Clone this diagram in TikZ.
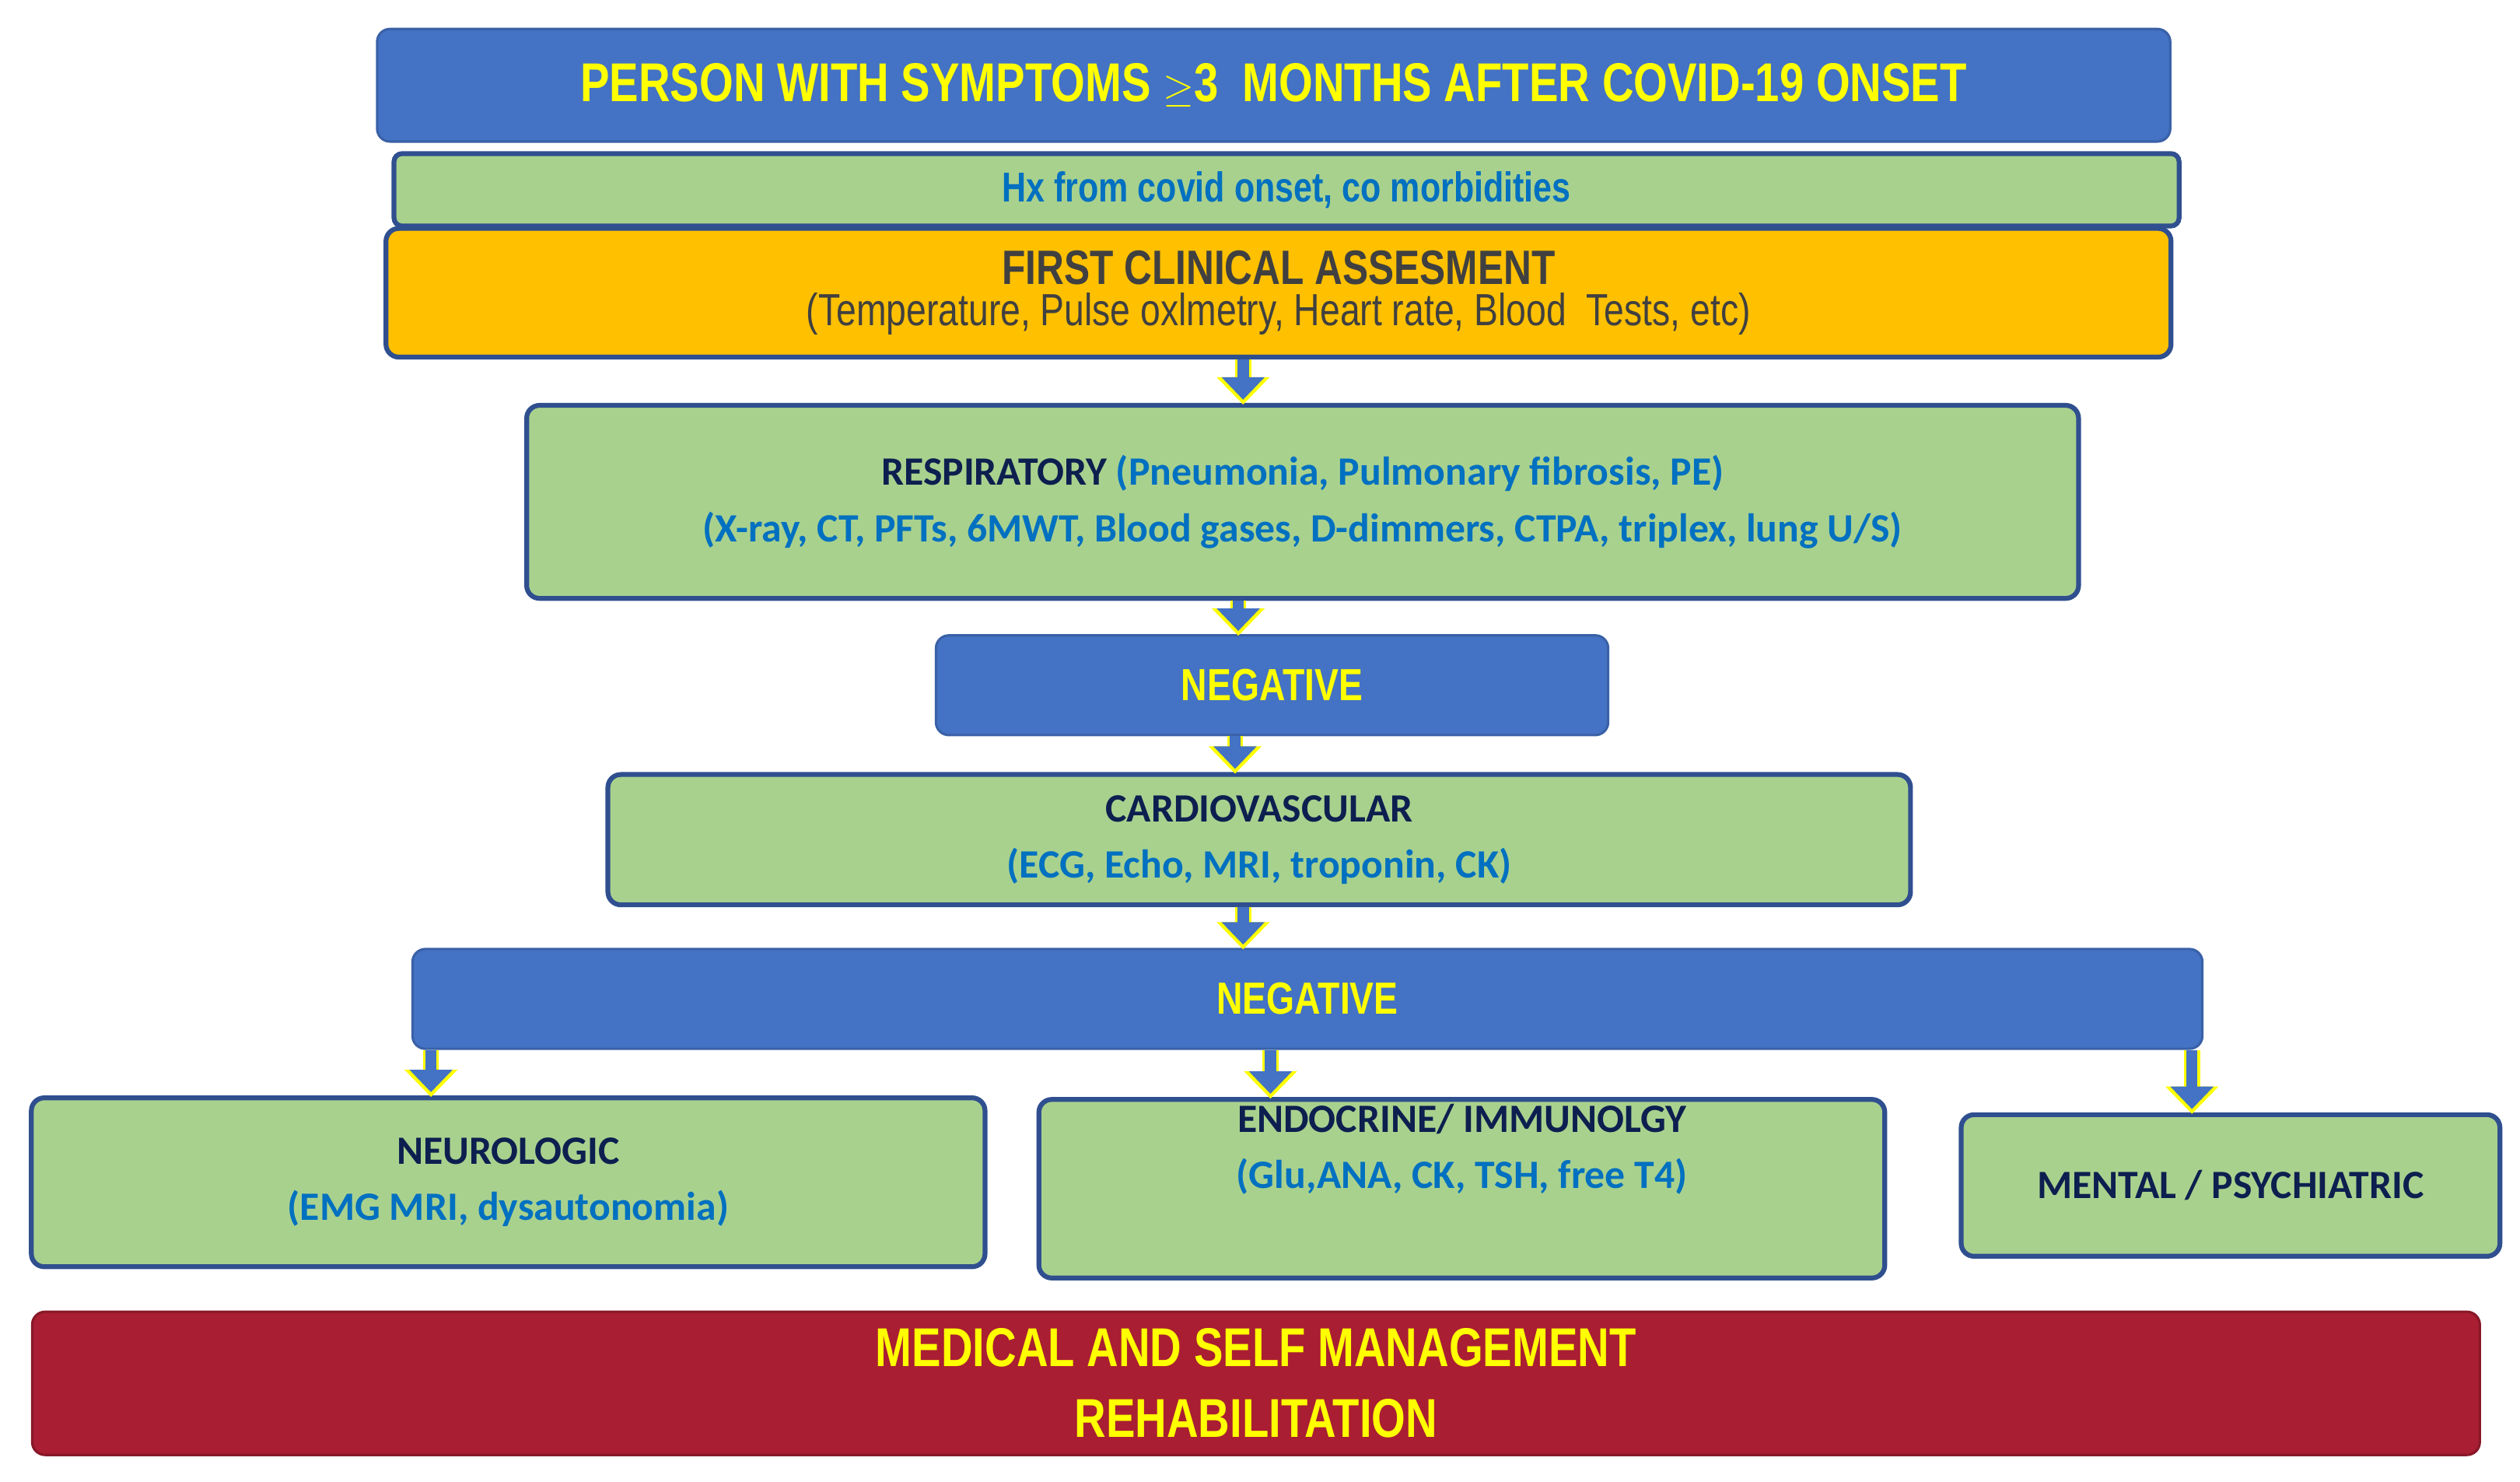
\documentclass[tikz,border=0pt]{standalone}
\usepackage{fontspec}
\setmainfont{Carlito}
\newfontfamily\narrowf[FakeStretch=0.80]{Liberation Sans}
\usetikzlibrary{arrows.meta}
\definecolor{bbox}{HTML}{4472C4}
\definecolor{gbox}{HTML}{A9D18E}
\definecolor{obox}{HTML}{FFC000}
\definecolor{rbox}{HTML}{A91E32}
\definecolor{edge}{HTML}{2F4F8F}
\definecolor{txtb}{HTML}{0070C0}
\definecolor{navy}{HTML}{0D1F4F}
\definecolor{ylw}{HTML}{FFFF00}
\definecolor{gry}{HTML}{404040}
\begin{document}
\begin{tikzpicture}[x=1pt,y=-1pt,
  box/.style={draw=edge,line width=3pt,rounded corners=8pt,inner sep=0pt,align=center},
  bluebox/.style={box,fill=bbox,draw=bbox!85!black,line width=1.5pt},
  greenbox/.style={box,fill=gbox},
  ytitle/.style={font=\narrowf\bfseries\fontsize{34}{40}\selectfont,text=ylw},
  arr/.style={line width=10pt,draw=ylw,-{Triangle[width=32pt,length=17pt]},shorten >=-1pt},
  arrin/.style={line width=7pt,draw=bbox,-{Triangle[width=26pt,length=14pt]},shorten >=2pt}]
\useasboundingbox (0,0) rectangle (1567,921);
% nodes
\node[bluebox,minimum width=1115pt,minimum height=70pt,ytitle] (title) at (792,53)
  {PERSON WITH SYMPTOMS \raisebox{0pt}{$\geq$}3\ \ MONTHS AFTER COVID-19 ONSET};
\node[greenbox,minimum width=1110pt,minimum height=45pt,rounded corners=5pt,
  font=\narrowf\bfseries\fontsize{26}{30}\selectfont,text=txtb] (hx) at (800,118)
  {Hx from covid onset, co morbidities};
\node[box,fill=obox,minimum width=1110pt,minimum height=80pt] (first) at (795,182)
  {{\narrowf\bfseries\fontsize{30}{34}\selectfont\color{gry}FIRST CLINICAL ASSESMENT}\\[4pt]
   {\narrowf\fontsize{28}{32}\selectfont\color{gry}(Temperature, Pulse oxlmetry, Heart rate, Blood\ \ Tests, etc)}};
\node[greenbox,minimum width=965pt,minimum height=120pt,
  font=\bfseries\fontsize{25}{35}\selectfont] (resp) at (810,312)
  {{\color{navy}RESPIRATORY} {\color{txtb}(Pneumonia, Pulmonary fibrosis, PE)}\\
   {\color{txtb}(X-ray, CT, PFTs, 6MWT, Blood gases, D-dimmers, CTPA, triplex, lung U/S)}};
\node[bluebox,minimum width=418pt,minimum height=62pt,ytitle,font=\narrowf\bfseries\fontsize{28}{32}\selectfont] (neg1) at (791,426) {NEGATIVE};
\node[greenbox,minimum width=810pt,minimum height=81pt,
  font=\bfseries\fontsize{25}{35}\selectfont] (cardio) at (783,522)
  {{\color{navy}CARDIOVASCULAR}\\{\color{txtb}(ECG, Echo, MRI, troponin, CK)}};
\node[bluebox,minimum width=1113pt,minimum height=62pt,ytitle,font=\narrowf\bfseries\fontsize{28}{32}\selectfont] (neg2) at (813,621) {NEGATIVE};
\node[greenbox,minimum width=593pt,minimum height=105pt,
  font=\bfseries\fontsize{25}{35}\selectfont] (neuro) at (316,735)
  {{\color{navy}NEUROLOGIC}\\{\color{txtb}(EMG MRI, dysautonomia)}};
\node[greenbox,minimum width=526pt,minimum height=111pt,
  font=\bfseries\fontsize{25}{35}\selectfont] (endo) at (909,739)
  {{\color{navy}ENDOCRINE/ IMMUNOLGY}\\{\color{txtb}(Glu,ANA, CK, TSH, free T4)}\\[18pt]};
\node[greenbox,minimum width=335pt,minimum height=88pt,
  font=\bfseries\fontsize{25}{30}\selectfont,text=navy] (mental) at (1387,737)
  {MENTAL / PSYCHIATRIC};
\node[box,fill=rbox,draw=rbox!80!black,line width=1.5pt,minimum width=1522pt,minimum height=89pt,
  font=\narrowf\bfseries\fontsize{34}{44}\selectfont,text=ylw] (mgmt) at (781,860)
  {MEDICAL AND SELF MANAGEMENT\\REHABILITATION};
% connectors
\coordinate (a1) at (773,0);
\coordinate (a2) at (770,0);
\coordinate (a3) at (768,0);
\coordinate (a4) at (773,0);
\coordinate (b1) at (268,0);
\coordinate (b2) at (790,0);
\coordinate (b3) at (1363,0);
\foreach \s/\t/\c in {first/resp/a1,resp/neg1/a2,neg1/cardio/a3,cardio/neg2/a4,
                      neg2/neuro/b1,neg2/endo/b2,neg2/mental/b3}{
  \draw[arr] (\c|-\s.south) -- (\c|-\t.north);
  \draw[arrin] (\c|-\s.south) -- (\c|-\t.north);
}
\end{tikzpicture}
\end{document}
